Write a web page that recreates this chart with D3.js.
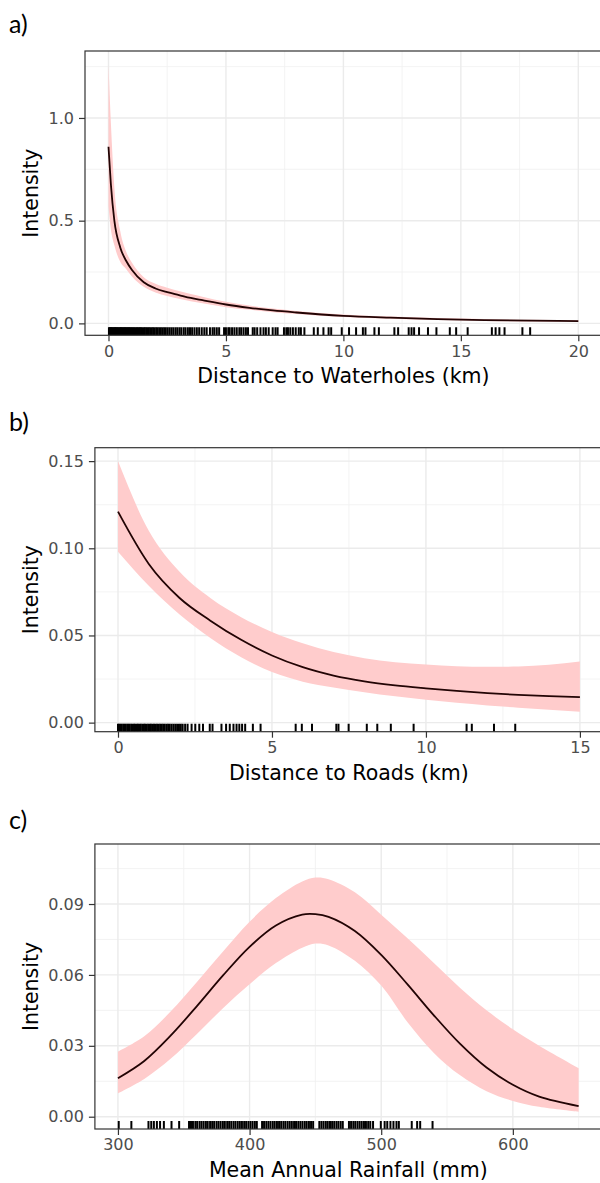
<!DOCTYPE html>
<html>
<head>
<meta charset="utf-8">
<script src="https://cdn.jsdelivr.net/npm/d3@7"></script>
<style>
  html, body { margin: 0; padding: 0; background: #fff; }
  svg { display: block; }
</style>
</head>
<body>
<svg id="chart" width="600" height="1183"></svg>
<script>
// ---------- Panel a: Distance to Waterholes ----------
const xA     = [0, 0.1, 0.25, 0.5, 0.75, 1, 1.5, 2, 2.5, 3, 3.5, 4, 5, 6, 7, 8, 10, 12, 14, 16, 18, 20];
const fitA   = [0.86, 0.68, 0.50, 0.37, 0.305, 0.26, 0.20, 0.17, 0.152, 0.138, 0.124, 0.113, 0.092, 0.076, 0.063, 0.053, 0.037, 0.028, 0.021, 0.016, 0.013, 0.011];
const upperA = [1.26, 0.98, 0.66, 0.45, 0.35, 0.295, 0.225, 0.193, 0.174, 0.158, 0.143, 0.13, 0.105, 0.087, 0.072, 0.060, 0.043, 0.033, 0.026, 0.021, 0.018, 0.016];
const lowerA = [0.57, 0.46, 0.38, 0.30, 0.265, 0.228, 0.178, 0.15, 0.133, 0.12, 0.108, 0.098, 0.079, 0.066, 0.054, 0.046, 0.031, 0.023, 0.016, 0.012, 0.009, 0.007];
const rugA = [0.02,0.05,0.08,0.11,0.14,0.18,0.21,0.25,0.28,0.31,0.35,0.38,0.42,0.46,0.5,0.53,0.57,0.61,0.65,0.69,0.72,0.76,0.8,0.84,0.88,0.92,0.97,1.01,1.06,1.1,1.15,1.2,1.24,1.29,1.34,1.39,1.44,1.5,1.55,1.61,1.66,1.72,1.78,1.84,1.9,1.96,2.03,2.09,2.16,2.23,2.3,2.37,2.44,2.52,2.6,2.68,2.76,2.85,2.93,3.02,3.1,3.2,3.28,3.38,3.47,3.56,3.66,3.76,3.86,3.97,4.08,4.18,
  4.32,4.43,4.51,4.61,4.71,4.92,5.0,5.1,5.16,5.26,5.36,5.46,5.57,5.65,5.75,5.85,5.94,6.14,6.22,6.33,6.47,6.6,6.7,6.82,6.99,7.11,7.2,7.47,7.57,7.64,7.74,7.85,7.97,8.1,8.19,8.34,
  8.74,8.91,9.15,9.37,9.48,9.93,10.24,10.54,10.83,10.94,11.32,11.51,12.17,12.33,12.78,12.9,13.01,13.22,13.6,13.96,14.53,14.8,15.29,16.32,16.48,16.64,16.86,17.62,17.95];
const xTicksA = [0, 5, 10, 15, 20];
const yTicksA = [0, 0.5, 1.0];
const yLabelsA = ["0.0", "0.5", "1.0"];

// ---------- Panel b: Distance to Roads ----------
const xB     = [0, 1, 2, 3, 4, 5, 6, 7, 8, 9, 10, 11, 12, 13, 14, 15];
const fitB   = [0.121, 0.091, 0.0715, 0.0585, 0.0475, 0.0385, 0.0318, 0.027, 0.0237, 0.0214, 0.0197, 0.0182, 0.0169, 0.0159, 0.0152, 0.0146];
const upperB = [0.150, 0.110, 0.0865, 0.0715, 0.0605, 0.052, 0.0455, 0.0405, 0.037, 0.0347, 0.0333, 0.0324, 0.032, 0.0322, 0.0332, 0.035];
const lowerB = [0.098, 0.0785, 0.062, 0.0485, 0.0375, 0.029, 0.0235, 0.0202, 0.0175, 0.0151, 0.0131, 0.0114, 0.0099, 0.0086, 0.0074, 0.0063];
const rugB = [0,0.04,0.08,0.12,0.17,0.21,0.25,0.3,0.34,0.38,0.43,0.47,0.52,0.56,0.61,0.65,0.7,0.74,0.79,0.84,0.88,0.93,0.98,1.03,1.07,1.12,1.17,1.22,1.27,1.32,1.37,1.42,1.47,1.52,1.58,1.63,1.68,1.74,1.8,1.86,1.92,1.98,2.04,2.1,2.18,2.26,
  2.39,2.51,2.64,2.76,2.98,3.07,3.36,3.51,3.63,3.75,3.85,3.94,4.03,4.13,4.38,4.63,5.77,5.97,6.3,7.09,7.16,7.49,8.08,8.42,8.86,9.6,11.32,11.49,12.21,12.9];
const xTicksB = [0, 5, 10, 15];
const yTicksB = [0, 0.05, 0.10, 0.15];
const yLabelsB = ["0.00", "0.05", "0.10", "0.15"];

// ---------- Panel c: Mean Annual Rainfall ----------
const xC     = [300, 320, 340, 360, 380, 400, 420, 440, 450, 460, 480, 500, 520, 540, 560, 580, 600, 620, 650];
const fitC   = [0.0163, 0.0236, 0.0343, 0.0468, 0.0599, 0.0719, 0.0809, 0.0855, 0.0857, 0.0846, 0.0786, 0.0685, 0.056, 0.0429, 0.0308, 0.0208, 0.0135, 0.0085, 0.0045];
const upperC = [0.0275, 0.034, 0.0445, 0.057, 0.070, 0.0825, 0.0925, 0.0995, 0.1012, 0.1005, 0.095, 0.0855, 0.0755, 0.065, 0.0545, 0.045, 0.037, 0.030, 0.0205];
const lowerC = [0.0099, 0.016, 0.0245, 0.035, 0.046, 0.056, 0.065, 0.0715, 0.0733, 0.0725, 0.066, 0.0555, 0.040, 0.027, 0.0175, 0.0108, 0.0067, 0.0042, 0.0021];
const rugC = [300.6,310.2,323.2,325.3,327.3,329.6,332,334.9,340.7,346.5,
  354,355.5,357,358.8,360.2,362,363.5,365.1,366.8,368.2,370,371.6,373.1,374.9,376.4,378,379.7,381.2,383,384.5,386.1,387.8,389.3,391,392.6,394.2,395.9,397.4,399.1,400.7,402.3,404,405.5,
  409.5,411,412.7,414.3,415.9,417.6,419.1,420.8,422.4,424,425.7,427.2,428.9,430.5,432.1,433.8,435.3,437,438.6,440.2,441.9,443.4,445.1,446.7,448.3,
  453,454.6,456.2,457.9,459.4,461.1,462.7,464.3,466,467.5,469.2,470.8,
  475.5,477.1,478.8,480.3,482,483.6,485.2,486.9,488.4,490.1,491.7,493.8,
  499.7,502.6,504.6,507,509.3,511.6,513.4,523.2,527.3,529.6,539];
const xTicksC = [300, 400, 500, 600];
const yTicksC = [0, 0.03, 0.06, 0.09];
const yLabelsC = ["0.00", "0.03", "0.06", "0.09"];

const panelLabels = ["a)", "b)", "c)"];
const xTitles = ["Distance to Waterholes (km)", "Distance to Roads (km)", "Mean Annual Rainfall (mm)"];
const yTitle = "Intensity";

// ---------- Layout ----------
const panels = [
  { label: panelLabels[0], labelY: 33, x: xA, fit: fitA, up: upperA, lo: lowerA, rug: rugA,
    xt: xTicksA, yt: yTicksA, yl: yLabelsA, xTitle: xTitles[0], curve: d3.curveMonotoneX,
    left: 85, right: 601.8, top: 51, bottom: 335.3, xDom: [-1, 21], yDom: [-0.058, 1.326] },
  { label: panelLabels[1], labelY: 431, x: xB, fit: fitB, up: upperB, lo: lowerB, rug: rugB,
    xt: xTicksB, yt: yTicksB, yl: yLabelsB, xTitle: xTitles[1], curve: d3.curveMonotoneX,
    left: 94.9, right: 603, top: 447.7, bottom: 731.7, xDom: [-0.75, 15.75], yDom: [-0.0052, 0.1577] },
  { label: panelLabels[2], labelY: 829, x: xC, fit: fitC, up: upperC, lo: lowerC, rug: rugC,
    xt: xTicksC, yt: yTicksC, yl: yLabelsC, xTitle: xTitles[2], curve: d3.curveCatmullRom.alpha(0.5),
    left: 94.9, right: 601.7, top: 844, bottom: 1129, xDom: [282.5, 667.5], yDom: [-0.0052, 0.1154] }
];

const svg = d3.select("#chart");
const FONT = "'DejaVu Sans', sans-serif";

panels.forEach((p, i) => {
  const x = d3.scaleLinear().domain(p.xDom).range([p.left, p.right]);
  const y = d3.scaleLinear().domain(p.yDom).range([p.bottom, p.top]);
  const g = svg.append("g");

  const clipId = "clip" + i;
  svg.append("clipPath").attr("id", clipId)
    .append("rect").attr("x", p.left).attr("y", p.top)
    .attr("width", p.right - p.left).attr("height", p.bottom - p.top);

  // minor grid positions halfway between major ticks
  const xt = p.xt, yt = p.yt;
  const xStep = xt[1] - xt[0], yStep = yt[1] - yt[0];
  const xMinor = [], yMinor = [];
  for (let v = xt[0] - xStep / 2; v <= p.xDom[1]; v += xStep) if (v >= p.xDom[0]) xMinor.push(v);
  for (let v = yt[0] - yStep / 2; v <= p.yDom[1]; v += yStep) if (v >= p.yDom[0]) yMinor.push(v);

  const grid = g.append("g").attr("clip-path", `url(#${clipId})`);
  grid.selectAll(".vmin").data(xMinor).enter().append("line")
    .attr("x1", d => x(d)).attr("x2", d => x(d)).attr("y1", p.top).attr("y2", p.bottom)
    .attr("stroke", "#f0f0f0").attr("stroke-width", 0.8);
  grid.selectAll(".hmin").data(yMinor).enter().append("line")
    .attr("y1", d => y(d)).attr("y2", d => y(d)).attr("x1", p.left).attr("x2", p.right)
    .attr("stroke", "#f0f0f0").attr("stroke-width", 0.8);
  grid.selectAll(".vmaj").data(xt).enter().append("line")
    .attr("x1", d => x(d)).attr("x2", d => x(d)).attr("y1", p.top).attr("y2", p.bottom)
    .attr("stroke", "#ebebeb").attr("stroke-width", 1.4);
  grid.selectAll(".hmaj").data(yt).enter().append("line")
    .attr("y1", d => y(d)).attr("y2", d => y(d)).attr("x1", p.left).attr("x2", p.right)
    .attr("stroke", "#ebebeb").attr("stroke-width", 1.4);

  const pts = p.x.map((v, k) => ({ x: v, f: p.fit[k], u: p.up[k], l: p.lo[k] }));
  const plot = g.append("g").attr("clip-path", `url(#${clipId})`);

  plot.append("path").datum(pts)
    .attr("d", d3.area().x(d => x(d.x)).y0(d => y(d.l)).y1(d => y(d.u)).curve(p.curve))
    .attr("fill", "#ffcccc").attr("stroke", "none");

  plot.append("path").datum(pts)
    .attr("d", d3.line().x(d => x(d.x)).y(d => y(d.f)).curve(p.curve))
    .attr("fill", "none").attr("stroke", "#220404").attr("stroke-width", 1.8);

  // rug
  const rugLen = (p.bottom - p.top) * 0.028;
  plot.selectAll(".rug").data(p.rug).enter().append("line")
    .attr("x1", d => x(d)).attr("x2", d => x(d))
    .attr("y1", p.bottom).attr("y2", p.bottom - rugLen)
    .attr("stroke", "#000").attr("stroke-width", 2);

  // frame
  g.append("rect").attr("x", p.left).attr("y", p.top)
    .attr("width", p.right - p.left).attr("height", p.bottom - p.top)
    .attr("fill", "none").attr("stroke", "#333333").attr("stroke-width", 1.2);

  // axes
  const xAxis = d3.axisBottom(x).tickValues(p.xt).tickSize(6).tickPadding(4).tickFormat(d3.format("d"));
  const ax = g.append("g").attr("transform", `translate(0,${p.bottom})`).call(xAxis);
  const yAxis = d3.axisLeft(y).tickValues(p.yt).tickSize(6).tickPadding(5).tickFormat((d, k) => p.yl[k]);
  const ay = g.append("g").attr("transform", `translate(${p.left},0)`).call(yAxis);
  [ax, ay].forEach(a => {
    a.select(".domain").remove();
    a.selectAll(".tick line").attr("stroke", "#333333").attr("stroke-width", 1.2);
    a.selectAll(".tick text").attr("fill", "#4d4d4d").style("font-family", FONT).style("font-size", "16px");
  });

  // titles
  g.append("text")
    .attr("x", x((p.xDom[0] + p.xDom[1]) / 2))
    .attr("y", p.bottom + 48).attr("text-anchor", "middle")
    .style("font-family", FONT).style("font-size", "20.5px").attr("fill", "#000")
    .text(p.xTitle);

  g.append("text")
    .attr("transform", `translate(38,${(p.top + p.bottom) / 2}) rotate(-90)`)
    .attr("text-anchor", "middle")
    .style("font-family", FONT).style("font-size", "20.5px").attr("fill", "#000")
    .text(yTitle);

  g.append("text").attr("x", 9).attr("y", p.labelY)
    .style("font-family", "Lato, 'Open Sans', sans-serif").style("font-size", "25px").attr("fill", "#000")
    .text(p.label);
});
</script>
</body>
</html>
